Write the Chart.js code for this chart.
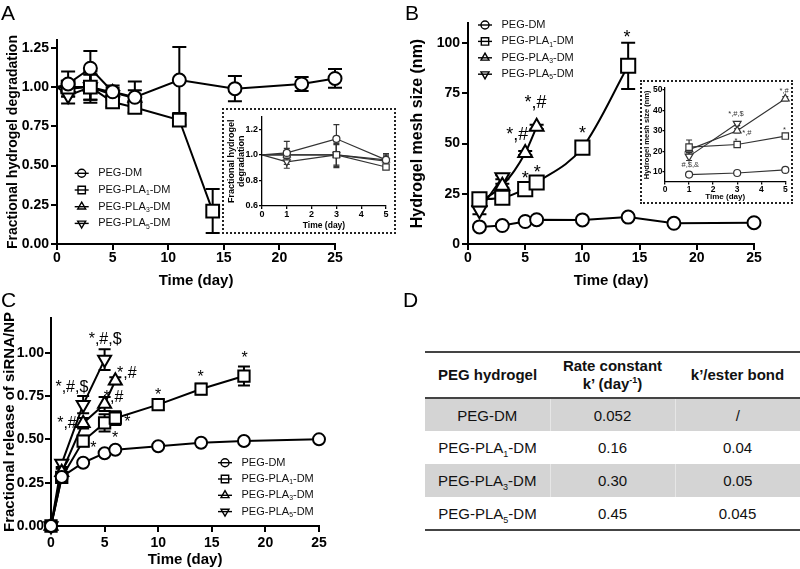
<!doctype html>
<html lang="en">
<head>
<meta charset="UTF-8">
<title>PEG hydrogel degradation, mesh size and siRNA/NP release</title>
<style>
  body { margin: 0; background: #fff; }
  #fig { position: relative; width: 800px; height: 569px; overflow: hidden; background: #fff;
         font-family: 'Liberation Sans', Arial, Helvetica, sans-serif; color: #000; }
  .box { position: absolute; }
  .box canvas { position: absolute; left: 0; top: 0; }
  .inset { position: absolute; border: 2px dotted #222; background: #fff; box-sizing: border-box; }
  .inset canvas { position: absolute; left: 0; top: 0; }
  .tag { position: absolute; font-size: 21px; line-height: 21px; }
  #tblD { position: absolute; left: 425px; top: 351px; width: 375px; border-collapse: collapse;
          table-layout: fixed; font-size: 15px; color: #111; }
  #tblD th, #tblD td { text-align: center; padding: 0; }
  #tblD th { font-weight: bold; line-height: 18px; }
  #tblD thead tr { height: 46px; border-top: 2px solid #444; border-bottom: 2px solid #444; }
  #tblD tbody tr { height: 33px; }
  #tblD tbody tr.shade { background: #d4d4d4; }
  #tblD tbody tr.shade td + td { border-left: 1px solid #e6e6e6; }
  #tblD tbody tr:last-child { border-bottom: 2px solid #444; }
  #tblD sub, #tblD sup { font-size: 9px; line-height: 0; }
</style>
</head>
<body>
<div id="fig">
  <div class="box" style="left:0;top:0;width:400px;height:290px"><canvas id="cA" width="400" height="290"></canvas></div>
  <div class="box" style="left:400px;top:0;width:400px;height:290px"><canvas id="cB" width="400" height="290"></canvas></div>
  <div class="box" style="left:0;top:285px;width:400px;height:284px"><canvas id="cC" width="400" height="284"></canvas></div>
  <div class="inset" style="left:222px;top:108px;width:174px;height:126px"><canvas id="cAi" width="170" height="122"></canvas></div>
  <div class="inset" style="left:640px;top:80px;width:153px;height:124px"><canvas id="cBi" width="149" height="120"></canvas></div>
  <table id="tblD"></table>
  <div class="tag" style="left:1px;top:2px">A</div>
  <div class="tag" style="left:405px;top:2px">B</div>
  <div class="tag" style="left:1px;top:289px">C</div>
  <div class="tag" style="left:403px;top:289px">D</div>
</div>

<script src="https://cdn.jsdelivr.net/npm/chart.js"></script>
<script>
const FONT = "'Liberation Sans', Arial, Helvetica, sans-serif";

// series names ("_n" = subscript) and marker shapes
const NAMES = ['PEG-DM', 'PEG-PLA_1-DM', 'PEG-PLA_3-DM', 'PEG-PLA_5-DM'];
const SHAPES = ['circle', 'rect', 'triangle', 'triangle'];
const TURN = [0, 0, 0, 180];

// A: fractional hydrogel degradation
const A_TICK_X = [0, 5, 10, 15, 20, 25];
const A_TICK_Y = [0, 0.25, 0.5, 0.75, 1.0, 1.25];
const A_DM_DAY = [0, 1, 3, 5, 7, 11, 16, 22, 25];
const A_DM = [1.0, 1.02, 1.12, 0.97, 0.935, 1.045, 0.99, 1.02, 1.055];
const A_DM_ERR = [0, 0.08, 0.11, 0.04, 0.1, 0.21, 0.08, 0.045, 0.06];
const A_P1_DAY = [0, 1, 3, 5, 7, 11, 14];
const A_P1 = [1.0, 1.0, 1.0, 0.905, 0.87, 0.79, 0.21];
const A_P1_ERR = [0, 0.03, 0.1, 0.03, 0.03, 0.03, 0.14];
const A_P3_DAY = [0, 1, 3, 5, 7];
const A_P3 = [1.0, 0.99, 1.0, 0.965, 0.93];
const A_P3_ERR = [0, 0.05, 0.08, 0.03, 0.05];
const A_P5_DAY = [0, 1, 3, 5];
const A_P5 = [1.0, 0.945, 1.0, 0.95];
const A_P5_ERR = [0, 0.05, 0.08, 0.03];

// A inset: first 5 days
const AI_TICK_X = [0, 1, 2, 3, 4, 5];
const AI_TICK_Y = [0.6, 0.8, 1.0, 1.2];
const AI_DAY = [0, 1, 3, 5];
const AI_DM = [1.0, 1.015, 1.125, 0.96];
const AI_DM_ERR = [0, 0.09, 0.11, 0.05];
const AI_P1 = [1.0, 1.0, 1.0, 0.905];
const AI_P1_ERR = [0, 0.03, 0.1, 0.02];
const AI_P3 = [1.0, 1.0, 1.0, 0.96];
const AI_P3_ERR = [0, 0.05, 0.08, 0.04];
const AI_P5 = [1.0, 0.945, 1.0, 0.95];
const AI_P5_ERR = [0, 0.05, 0.09, 0.04];

// B: hydrogel mesh size (nm)
const B_TICK_X = [0, 5, 10, 15, 20, 25];
const B_TICK_Y = [0, 25, 50, 75, 100];
const B_DM_DAY = [1, 3, 5, 6, 10, 14, 18, 25];
const B_DM = [8.5, 9.2, 11.2, 12.1, 12, 13.4, 10.3, 10.6];
const B_DM_ERR = [0, 0, 0, 0, 0, 0, 0, 0];
const B_P1_DAY = [1, 3, 5, 6, 10, 14];
const B_P1 = [22.2, 23, 27.3, 30.6, 48, 88.7];
const B_P1_ERR = [2, 1, 1, 1, 1, 11.5];
const B_P3_DAY = [1, 3, 5, 6];
const B_P3 = [21, 29, 45.3, 58.3];
const B_P3_ERR = [1.5, 1, 1, 1];
const B_P5_DAY = [1, 3];
const B_P5 = [16.8, 33.2];
const B_P5_ERR = [2, 1];
const B_MARKS = [[5.9, 70, '*,#'], [4.3, 54, '*,#'], [10, 57, '*'], [5, 34.6, '*'], [6.05, 37.5, '*'], [13.9, 105, '*']];

// B inset: first 5 days
const BI_TICK_X = [0, 1, 2, 3, 4, 5];
const BI_TICK_Y = [10, 20, 30, 40, 50];
const BI_DAY = [1, 3, 5];
const BI_DM = [8.6, 9.4, 10.9];
const BI_DM_ERR = [0.5, 0.5, 0.5];
const BI_P1 = [22, 23.3, 27.4];
const BI_P1_ERR = [3.5, 1, 1];
const BI_P3 = [20.8, 30, 45.6];
const BI_P3_ERR = [1.5, 1, 1];
const BI_P5_DAY = [1, 3];
const BI_P5 = [17.5, 33.5];
const BI_P5_ERR = [2, 1];
const BI_MARKS = [[1.05, 13.1, '#,$,&'], [2.95, 38.1, '*,#,$'], [3.4, 28.9, '*,#'], [2.95, 26, '*'], [4.97, 31.6, '*'], [4.95, 49.5, '*,#']];

// C: fractional release of siRNA/NP
const C_TICK_X = [0, 5, 10, 15, 20, 25];
const C_TICK_Y = [0, 0.25, 0.5, 0.75, 1.0];
const C_DM_DAY = [0, 1, 3, 5, 6, 10, 14, 18, 25];
const C_DM = [0, 0.283, 0.365, 0.42, 0.44, 0.46, 0.48, 0.49, 0.5];
const C_DM_ERR = [0, 0, 0, 0, 0, 0, 0, 0, 0];
const C_P1_DAY = [0, 1, 3, 5, 6, 10, 14, 18];
const C_P1 = [0, 0.28, 0.49, 0.595, 0.622, 0.70, 0.79, 0.865];
const C_P1_ERR = [0, 0.02, 0.03, 0.05, 0.04, 0.03, 0.03, 0.055];
const C_P3_DAY = [0, 1, 3, 5, 6];
const C_P3 = [0, 0.31, 0.593, 0.704, 0.838];
const C_P3_ERR = [0, 0.02, 0.03, 0.04, 0.02];
const C_P5_DAY = [0, 1, 3, 5];
const C_P5 = [0, 0.36, 0.70, 0.96];
const C_P5_ERR = [0, 0.02, 0.05, 0.06];
const C_MARKS = [[5.05, 1.077, '*,#,$'], [1.95, 0.80, '*,#,$'], [7.07, 0.88, '*,#'], [5.83, 0.74, '*,#'],
  [1.49, 0.59, '*,#'], [3.96, 0.47, '*'], [5.98, 0.53, '*'], [7.13, 0.62, '*'], [10, 0.78, '*'],
  [13.95, 0.88, '*'], [18.07, 0.99, '*']];

// D: rate constants
const D_GEL = ['PEG-DM', 'PEG-PLA_1-DM', 'PEG-PLA_3-DM', 'PEG-PLA_5-DM'];
const D_RATE = ['0.052', '0.16', '0.30', '0.45'];
const D_PER_BOND = ['/', '0.04', '0.05', '0.045'];

// ---- drawing helpers ----
function richText(ctx, txt, x, y, size) {
  txt.split(/_(\d)/).forEach((part, k) => {
    const sub = k % 2 === 1;
    ctx.font = (sub ? size * 0.62 : size) + 'px ' + FONT;
    ctx.fillText(part, x, y + (sub ? size * 0.3 : 0));
    x += ctx.measureText(part).width;
  });
}

function shapePath(ctx, shape, turn, r, x, y) {
  ctx.beginPath();
  if (shape === 'circle') {
    ctx.arc(x, y, r, 0, Math.PI * 2);
  } else if (shape === 'rect') {
    const h = r * Math.SQRT1_2;
    ctx.rect(x - h, y - h, 2 * h, 2 * h);
  } else {
    const s = turn ? -1 : 1;
    ctx.moveTo(x, y - s * r);
    ctx.lineTo(x + r * 0.866, y + s * r * 0.5);
    ctx.lineTo(x - r * 0.866, y + s * r * 0.5);
    ctx.closePath();
  }
}

const errorBars = {
  id: 'errorBars',
  beforeDatasetsDraw(chart) {
    const { ctx } = chart;
    const ys = chart.scales.y;
    chart.data.datasets.forEach((ds, i) => {
      if (!ds.errors) return;
      const meta = chart.getDatasetMeta(i);
      ctx.save();
      ctx.strokeStyle = ds.borderColor;
      ctx.lineWidth = ds.borderWidth;
      meta.data.forEach((pt, j) => {
        const e = ds.errors[j];
        if (!e) return;
        const v = ds.data[j].y;
        const top = ys.getPixelForValue(v + e);
        const bot = ys.getPixelForValue(v - e);
        const w = ds.capHalf;
        ctx.beginPath();
        ctx.moveTo(pt.x, top); ctx.lineTo(pt.x, bot);
        ctx.moveTo(pt.x - w, top); ctx.lineTo(pt.x + w, top);
        ctx.moveTo(pt.x - w, bot); ctx.lineTo(pt.x + w, bot);
        ctx.stroke();
      });
      ctx.restore();
    });
  }
};

function marksPlugin(items, size, color) {
  return {
    id: 'marks',
    afterDatasetsDraw(chart) {
      const { ctx, scales: { x, y } } = chart;
      ctx.save();
      ctx.fillStyle = color;
      ctx.font = size + 'px ' + FONT;
      ctx.textAlign = 'center';
      ctx.textBaseline = 'middle';
      items.forEach(([dx, dy, txt]) => {
        const lift = txt === '*' ? size * 0.27 : 0;
        ctx.fillText(txt, x.getPixelForValue(dx), y.getPixelForValue(dy) + lift);
      });
      ctx.restore();
    }
  };
}

function legendPlugin(L) {
  return {
    id: 'insideLegend',
    afterDraw(chart) {
      const ctx = chart.ctx;
      NAMES.forEach((name, k) => {
        const y = L.y + k * L.gap;
        ctx.save();
        ctx.strokeStyle = '#000';
        ctx.lineWidth = 1.4;
        shapePath(ctx, SHAPES[k], TURN[k], L.r[k], L.x, y);
        ctx.stroke();
        ctx.beginPath();
        ctx.moveTo(L.x - L.half, y); ctx.lineTo(L.x + L.half, y);
        ctx.stroke();
        ctx.fillStyle = '#111';
        ctx.textAlign = 'left';
        ctx.textBaseline = 'middle';
        richText(ctx, name, L.x + L.textGap, y, L.size);
        ctx.restore();
      });
    }
  };
}

function buildSeries(sets, look) {
  return sets.map(([days, vals, errs], k) => ({
    data: days.map((d, i) => ({ x: d, y: vals[i] })),
    errors: errs,
    capHalf: look.cap,
    borderColor: look.color,
    borderWidth: look.line,
    pointStyle: SHAPES[k],
    rotation: TURN[k],
    pointRadius: c => (look.hideZero && c.raw && c.raw.x === 0) ? 0 : look.radius[k],
    pointBorderWidth: look.line,
    pointBorderColor: look.color,
    pointBackgroundColor: '#fff',
    cubicInterpolationMode: look.smooth && look.smooth[k] ? 'monotone' : 'default',
    tension: 0,
    clip: false,
    fill: false
  }));
}

function axis(pos, o) {
  return {
    type: 'linear', position: pos, min: o.min, max: o.max,
    afterBuildTicks: s => { s.ticks = o.ticks.map(v => ({ value: v })); },
    afterFit: s => { if (pos === 'left') s.width = o.room; else s.height = o.room; },
    ticks: {
      autoSkip: false, maxRotation: 0, padding: o.pad, color: '#000',
      font: { family: FONT, size: o.tick, weight: 'bold' },
      callback: v => o.digits == null ? String(v) : Number(v).toFixed(o.digits)
    },
    grid: { drawOnChartArea: false, drawTicks: true, tickLength: o.tl, color: o.color, lineWidth: o.lw },
    border: { display: true, color: o.color, width: o.lw },
    title: {
      display: true, text: o.title, color: '#000',
      font: { family: FONT, size: o.tsize, weight: 'bold', lineHeight: o.tlh || 1.2 },
      padding: o.tpad
    }
  };
}

function makeChart(id, o) {
  const extra = [errorBars];
  if (o.marks) extra.push(marksPlugin(o.marks, o.markSize, o.look.color));
  if (o.legend) extra.push(legendPlugin(o.legend));
  return new Chart(document.getElementById(id), {
    type: 'line',
    data: { datasets: buildSeries(o.sets, o.look) },
    options: {
      responsive: false, animation: false, devicePixelRatio: 1, events: [],
      layout: { padding: o.pad },
      scales: { x: axis('bottom', o.x), y: axis('left', o.y) },
      plugins: { legend: { display: false }, tooltip: { enabled: false } }
    },
    plugins: extra
  });
}

const legendShape = { r: [4, 5.2, 4.6, 4.6], half: 7, textGap: 16.5, size: 11 };

// ---- panel A ----
makeChart('cA', {
  pad: { top: 40, right: 65, bottom: 0, left: 0 },
  sets: [[A_DM_DAY, A_DM, A_DM_ERR], [A_P1_DAY, A_P1, A_P1_ERR], [A_P3_DAY, A_P3, A_P3_ERR], [A_P5_DAY, A_P5, A_P5_ERR]],
  look: { color: '#000', line: 2, radius: [6.5, 9, 7.5, 7.5], cap: 7, hideZero: true },
  x: { min: 0, max: 25, ticks: A_TICK_X, room: 46, pad: 0, tick: 14, tl: 6, lw: 2, color: '#000',
       title: 'Time (day)', tsize: 15, tpad: { top: 0, bottom: 0 } },
  y: { min: 0, max: 1.3, ticks: A_TICK_Y, digits: 2, room: 57, pad: 2, tick: 14, tl: 6, lw: 2, color: '#000',
       title: 'Fractional hydrogel degradation', tsize: 14, tpad: { top: 5, bottom: 0 } },
  legend: Object.assign({ x: 81.7, y: 173.3, gap: 16.7 }, legendShape)
});

makeChart('cAi', {
  pad: { top: 3, right: 8, bottom: 0, left: 0 },
  sets: [[AI_DAY, AI_DM, AI_DM_ERR], [AI_DAY, AI_P1, AI_P1_ERR], [AI_DAY, AI_P3, AI_P3_ERR], [AI_DAY, AI_P5, AI_P5_ERR]],
  look: { color: '#333', line: 1.2, radius: [3.5, 4.5, 4, 4], cap: 3, hideZero: true },
  x: { min: 0, max: 5, ticks: AI_TICK_X, room: 26, pad: 0, tick: 9, tl: 3, lw: 1.3, color: '#000',
       title: 'Time (day)', tsize: 8.5, tpad: { top: 0, bottom: 1 } },
  y: { min: 0.6, max: 1.3, ticks: AI_TICK_Y, digits: 1, room: 38, pad: 1, tick: 9, tl: 3, lw: 1.3, color: '#000',
       title: ['Fractional hydrogel', 'degradation'], tsize: 9, tlh: 1.05, tpad: { top: 3, bottom: 0 } }
});

// ---- panel B ----
makeChart('cB', {
  pad: { top: 23, right: 46, bottom: 0, left: 0 },
  sets: [[B_DM_DAY, B_DM, B_DM_ERR], [B_P1_DAY, B_P1, B_P1_ERR], [B_P3_DAY, B_P3, B_P3_ERR], [B_P5_DAY, B_P5, B_P5_ERR]],
  look: { color: '#000', line: 2, radius: [6.5, 10, 8, 8], cap: 7, smooth: [false, true, true, true] },
  x: { min: 0, max: 25, ticks: B_TICK_X, room: 46, pad: 0, tick: 14, tl: 6, lw: 2, color: '#000',
       title: 'Time (day)', tsize: 15, tpad: { top: 0, bottom: 0 } },
  y: { min: 0, max: 110, ticks: B_TICK_Y, room: 68, pad: 2, tick: 14, tl: 6, lw: 2, color: '#000',
       title: 'Hydrogel mesh size (nm)', tsize: 16, tpad: { top: 8, bottom: 0 } },
  marks: B_MARKS, markSize: 18,
  legend: Object.assign({ x: 85, y: 25, gap: 16.4 }, legendShape)
});

makeChart('cBi', {
  pad: { top: 5, right: 4, bottom: 0, left: 0 },
  sets: [[BI_DAY, BI_DM, BI_DM_ERR], [BI_DAY, BI_P1, BI_P1_ERR], [BI_DAY, BI_P3, BI_P3_ERR], [BI_P5_DAY, BI_P5, BI_P5_ERR]],
  look: { color: '#333', line: 1.2, radius: [3.5, 4.5, 4.5, 4.5], cap: 3 },
  x: { min: 0, max: 5, ticks: BI_TICK_X, room: 20, pad: 0, tick: 8.5, tl: 2.5, lw: 1.3, color: '#000',
       title: 'Time (day)', tsize: 8, tpad: { top: 0, bottom: 0 } },
  y: { min: 5, max: 51, ticks: BI_TICK_Y, room: 23, pad: 0, tick: 8.5, tl: 2.5, lw: 1.3, color: '#000',
       title: 'Hydrogel mesh size (nm)', tsize: 7.5, tpad: { top: 0, bottom: 0 } },
  marks: BI_MARKS, markSize: 7.5
});

// ---- panel C ----
makeChart('cC', {
  pad: { top: 33, right: 81, bottom: 0, left: 0 },
  sets: [[C_DM_DAY, C_DM, C_DM_ERR], [C_P1_DAY, C_P1, C_P1_ERR], [C_P3_DAY, C_P3, C_P3_ERR], [C_P5_DAY, C_P5, C_P5_ERR]],
  look: { color: '#000', line: 2, radius: [6, 8, 7.5, 7.5], cap: 6 },
  x: { min: 0, max: 25, ticks: C_TICK_X, room: 43, pad: 3, tick: 14, tl: 6, lw: 2, color: '#000',
       title: 'Time (day)', tsize: 15, tpad: { top: 0, bottom: 0 } },
  y: { min: 0, max: 1.2, ticks: C_TICK_Y, digits: 2, room: 51, pad: 1, tick: 14, tl: 6, lw: 2, color: '#000',
       title: 'Fractional release of siRNA/NP', tsize: 15, tpad: { top: 1, bottom: 0 } },
  marks: C_MARKS, markSize: 16,
  legend: Object.assign({ x: 225, y: 177.7, gap: 16.3 }, legendShape)
});

// ---- panel D (table) ----
const sub = s => s.replace(/_(\d)/g, '<sub>$1</sub>');
let html = '<thead><tr><th>PEG hydrogel</th><th>Rate constant<br>k\u2019 (day<sup>-1</sup>)</th><th>k\u2019/ester bond</th></tr></thead><tbody>';
D_GEL.forEach((g, i) => {
  html += '<tr' + (i % 2 === 0 ? ' class="shade"' : '') + '><td>' + sub(g) + '</td><td>' + D_RATE[i] + '</td><td>' + D_PER_BOND[i] + '</td></tr>';
});
document.getElementById('tblD').innerHTML = html + '</tbody>';
</script>
</body>
</html>
